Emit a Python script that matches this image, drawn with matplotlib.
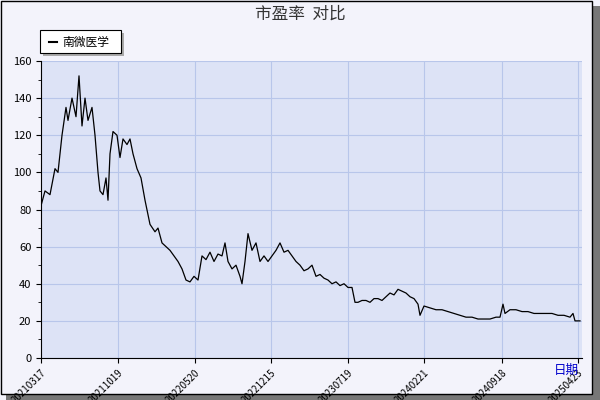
import matplotlib.pyplot as plt
from matplotlib.patches import Rectangle

plt.rcParams['font.family'] = ['Noto Sans CJK SC', 'DejaVu Sans']

# x positions in chart units (0..541)
xs = [0, 4, 9, 14, 17, 21, 25, 27, 31, 35, 38, 41, 44, 47, 51, 54, 57, 59, 62, 65, 67, 69, 72,
      76, 79, 82, 86, 89, 92, 96, 100, 104, 109, 114, 117, 121, 125, 129, 133, 137, 141, 145,
      149, 153, 157, 161, 165, 169, 173, 177, 181, 184, 187, 191, 195, 199, 201, 204, 207, 211,
      215, 219, 223, 227, 231, 235, 239, 243, 247, 251, 255, 259, 263, 267, 271, 275, 279, 283,
      287, 291, 295, 299, 303, 307, 311, 314, 317, 321, 325, 329, 333, 337, 341, 345, 349, 353,
      357, 361, 365, 369, 373, 377, 379, 383, 389, 395, 401, 407, 413, 419, 425, 431, 437, 443,
      449, 455, 459, 462, 464, 469, 475, 481, 487, 493, 499, 505, 511, 517, 523, 529, 532, 534, 539]
pe = [82, 90, 88, 102, 100, 120, 135, 128, 140, 130, 152, 125, 140, 128, 135, 120, 100, 90, 88,
      97, 85, 110, 122, 120, 108, 118, 115, 118, 110, 102, 97, 85, 72, 68, 70, 62, 60, 58, 55, 52,
      48, 42, 41, 44, 42, 55, 53, 57, 52, 56, 55, 62, 52, 48, 50, 44, 40, 52, 67, 58, 62, 52, 55,
      52, 55, 58, 62, 57, 58, 55, 52, 50, 47, 48, 50, 44, 45, 43, 42, 40, 41, 39, 40, 38, 38, 30,
      30, 31, 31, 30, 32, 32, 31, 33, 35, 34, 37, 36, 35, 33, 32, 29, 23, 28, 27, 26, 26, 25, 24,
      23, 22, 22, 21, 21, 21, 22, 22, 29, 24, 26, 26, 25, 25, 24, 24, 24, 24, 23, 23, 22, 24, 20, 20]
tick_pos = [0, 77, 154, 230, 307, 383, 461, 537]
tick_labels = ['20210317', '20211019', '20220520', '20221215',
               '20230719', '20240221', '20240918', '20250423']

fig = plt.figure(figsize=(6, 4), dpi=100)
fig.patch.set_facecolor('#f3f3fb')
# shadow and border
fig.add_artist(Rectangle((0.01, 0.0), 0.99, 0.985, transform=fig.transFigure,
                         facecolor='#777777', edgecolor='none', zorder=-2))
fig.add_artist(Rectangle((0.001, 0.015), 0.985, 0.983, transform=fig.transFigure,
                         facecolor='#f3f3fb', edgecolor='black', lw=1, zorder=-1))

ax = fig.add_axes([41/600, 42/400, 541/600, 297/400])
ax.set_facecolor('#dde3f6')
ax.plot(xs, pe, color='black', lw=0.9)
ax.set_xlim(0, 541)
ax.set_ylim(0, 160)
ax.set_yticks(range(0, 161, 20))
ax.set_xticks(tick_pos)
ax.set_xticklabels(tick_labels, rotation=45, ha='right', rotation_mode='anchor', fontsize=7)
ax.tick_params(axis='y', labelsize=8)
ax.yaxis.set_minor_locator(plt.MultipleLocator(10))
ax.grid(True, color='#b8c6ea', lw=0.8)
for s in ['top', 'right']:
    ax.spines[s].set_visible(False)

fig.text(0.5, 0.965, '市盈率  对比', ha='center', va='center', fontsize=12, color='#333333')
fig.text(0.965, 0.075, '日期', ha='right', va='center', fontsize=9, color='#0000cc')

# legend box with shadow
fig.add_artist(Rectangle((43/600, 1 - 56/400), 81/600, 23/400, transform=fig.transFigure,
                         facecolor='#aaaaaa', edgecolor='none'))
fig.add_artist(Rectangle((40/600, 1 - 53/400), 81/600, 23/400, transform=fig.transFigure,
                         facecolor='white', edgecolor='black', lw=0.8))
fig.add_artist(plt.Line2D([49/600, 57/600], [1 - 42/400] * 2, transform=fig.transFigure,
                          color='black', lw=1.5))
fig.text(62/600, 1 - 42/400, '南微医学', va='center', fontsize=8.5)

fig.savefig('out.png', dpi=100, facecolor=fig.get_facecolor())
